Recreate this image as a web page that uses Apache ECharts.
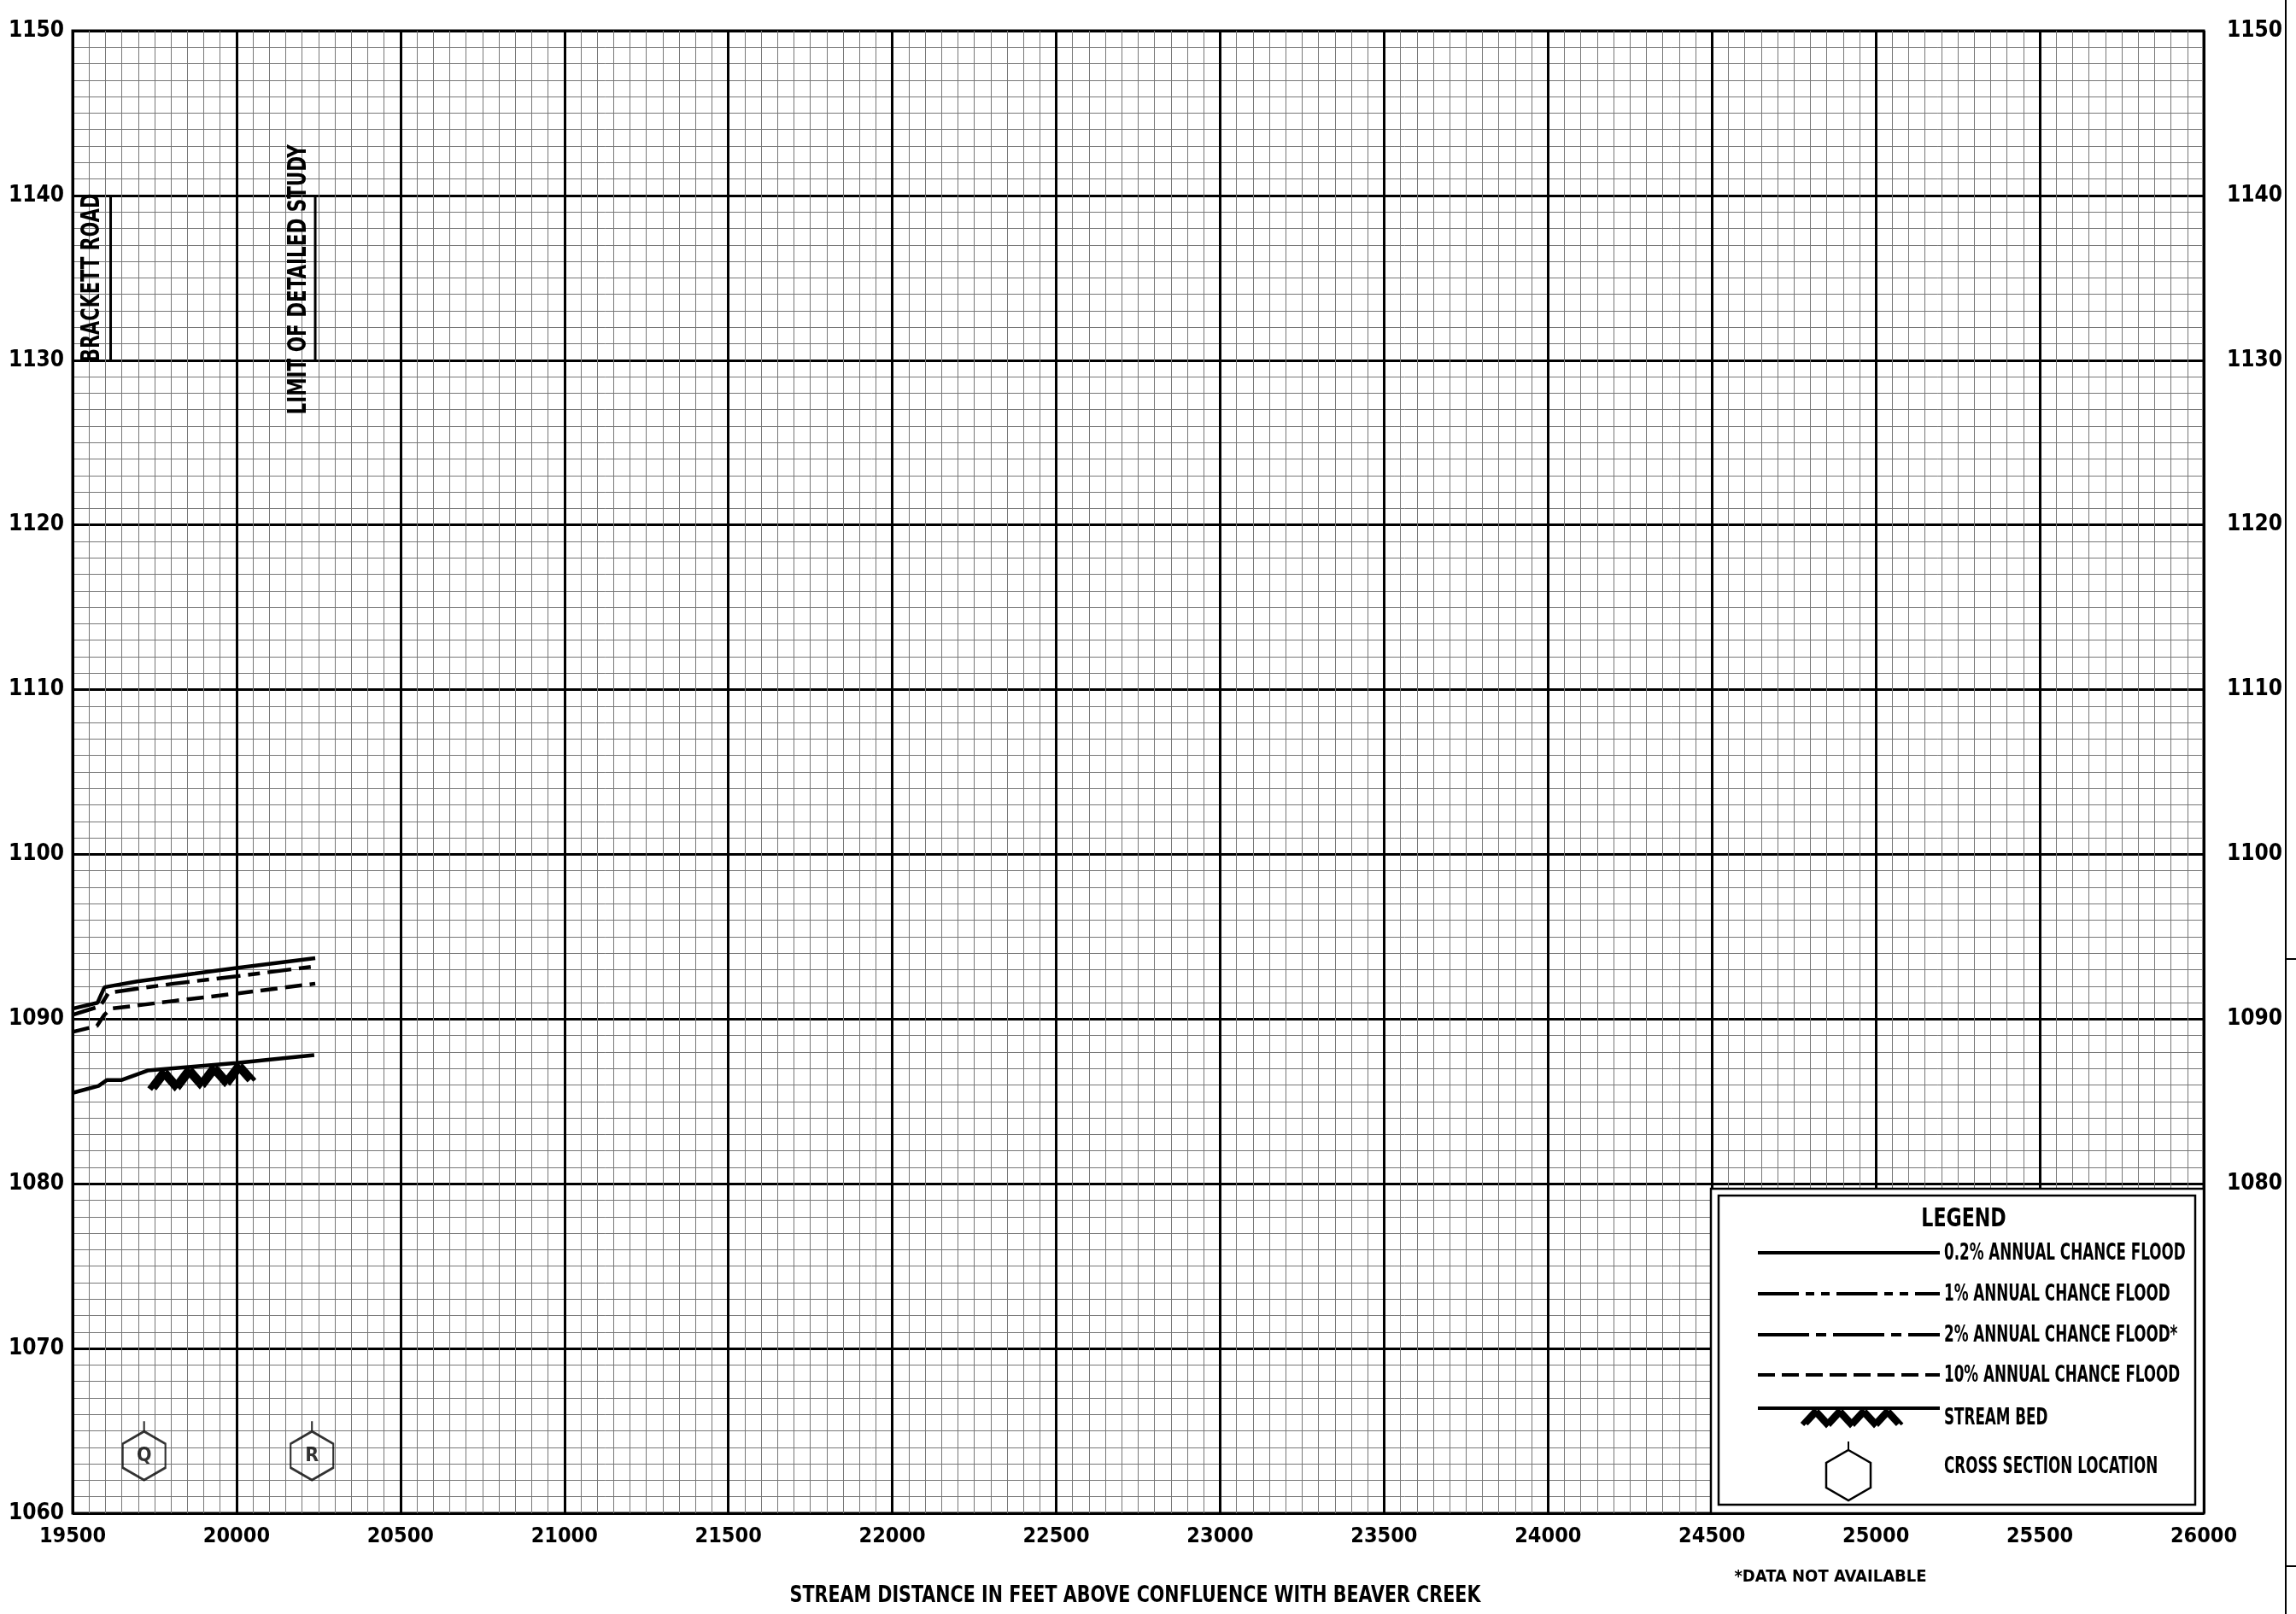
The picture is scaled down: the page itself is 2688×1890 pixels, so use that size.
<!DOCTYPE html>
<html>
<head>
<meta charset="utf-8">
<title>Flood profile</title>
<script src="https://cdn.jsdelivr.net/npm/echarts@6/dist/echarts.min.js"></script>
<style>
  html, body { margin: 0; padding: 0; background: #fff; }
  #chart { width: 2688px; height: 1890px; }
</style>
</head>
<body>
<div id="chart"></div>
<script>
// stream distance (ft) / elevation (ft)
const dist02 = [19500, 19576, 19597, 19610, 19697, 19873, 20000, 20240];
const elev02 = [1090.63, 1090.99, 1091.93, 1091.98, 1092.29, 1092.76, 1093.1, 1093.7];

const dist1 = [19500, 19584, 19610, 19808, 20000, 20240];
const elev1 = [1090.26, 1090.78, 1091.6, 1092.15, 1092.6, 1093.2];

const dist10 = [19500, 19574, 19597, 19616, 19808, 20000, 20240];
const elev10 = [1089.22, 1089.58, 1090.26, 1090.63, 1091.1, 1091.55, 1092.15];

const distBed = [19500, 19579, 19605, 19650, 19729, 20000, 20237];
const elevBed = [1085.52, 1085.94, 1086.3, 1086.3, 1086.88, 1087.34, 1087.81];
const bedHatch = [19735, 20040];

// cross sections
const xsLetters = ['Q', 'R'];
const xsDist = [19718, 20230];
const xsElev = [1063.8, 1063.8];

// vertical annotations (road / limit of study)
const roadDist = 19616;
const limitDist = 20240;
const annotBottom = 1130;
const annotTop = 1140;
const annotTexts = ['BRACKETT ROAD', 'LIMIT OF DETAILED STUDY'];
const annotDist = [19560, 20189];
const annotElev = [1135, 1134.9];
const annotScale = [0.75, 0.77];

const yRightLabels = [1080, 1090, 1100, 1110, 1120, 1130, 1140, 1150];

const FONT = "'DejaVu Sans Condensed', 'Liberation Sans Narrow', 'Noto Sans', sans-serif";

const zip = (xs, ys) => xs.map((x, i) => [x, ys[i]]);

const bedAt = (x) => {
  for (let i = 1; i < distBed.length; i++) {
    if (x <= distBed[i]) {
      const t = (x - distBed[i - 1]) / (distBed[i] - distBed[i - 1]);
      return elevBed[i - 1] + t * (elevBed[i] - elevBed[i - 1]);
    }
  }
  return elevBed[elevBed.length - 1];
};

const chart = echarts.init(document.getElementById('chart'), null, {renderer: 'canvas'});

const hexPath = 'path://M25,0 L25,12 L50,26.5 L50,54.5 L25,69 L0,54.5 L0,26.5 L25,12 Z';

const floodLine = (name, data, dash) => ({
  name: name,
  type: 'line',
  data: data,
  symbol: 'none',
  silent: true,
  z: 5,
  lineStyle: {color: '#000', width: 4.5, type: dash, cap: 'butt'}
});

const textStyle = {fontFamily: FONT, fontWeight: 'bold', fill: '#000'};

// legend box, drawn by hand (the symbols are not standard legend icons)
const LX = 2058, LX2 = 2271, TX = 2276;
const LEG_SCALE = 0.69;
const legendRows = [
  {y: 1467, text: '0.2% ANNUAL CHANCE FLOOD', dash: null},
  {y: 1515, text: '1% ANNUAL CHANCE FLOOD', dash: [48, 8, 10, 8, 10, 8]},
  {y: 1563, text: '2% ANNUAL CHANCE FLOOD*', dash: [60, 8, 12, 8]},
  {y: 1610, text: '10% ANNUAL CHANCE FLOOD', dash: [20, 8]}
];

const legendText = (x, y, text) => ({
  type: 'text', z: 52, x: x, y: y, scaleX: LEG_SCALE,
  style: Object.assign({text: text, fontSize: 27, verticalAlign: 'middle'}, textStyle)
});

const graphics = [
  {type: 'rect', z: 50, shape: {x: 2003, y: 1392, width: 577, height: 380},
    style: {fill: '#fff', stroke: '#000', lineWidth: 2.5}},
  {type: 'rect', z: 51, shape: {x: 2012, y: 1400, width: 558, height: 362},
    style: {fill: null, stroke: '#000', lineWidth: 2.5}},
  {type: 'text', z: 52, x: 2299, y: 1428, scaleX: 0.82,
    style: Object.assign({text: 'LEGEND', fontSize: 30, align: 'center', verticalAlign: 'middle'}, textStyle)}
];
legendRows.forEach(r => {
  graphics.push({type: 'line', z: 52, shape: {x1: LX, y1: r.y, x2: LX2, y2: r.y},
    style: {stroke: '#000', lineWidth: 4, lineDash: r.dash}});
  graphics.push(legendText(TX, r.y + 1, r.text));
});
// stream bed symbol
const zig = [];
for (let i = 0; i <= 8; i++) {
  zig.push([2110 + i * 14, i % 2 === 0 ? 1668 : 1653]);
}
graphics.push({type: 'line', z: 52, shape: {x1: LX, y1: 1649, x2: LX2, y2: 1649},
  style: {stroke: '#000', lineWidth: 4}});
graphics.push({type: 'polyline', z: 52, shape: {points: zig}, style: {stroke: '#000', lineWidth: 6, fill: null}});
graphics.push({type: 'polyline', z: 52, shape: {points: zig.map(p => [p[0] + 5, p[1]])},
  style: {stroke: '#000', lineWidth: 4, fill: null}});
graphics.push(legendText(TX, 1661, 'STREAM BED'));
// cross section symbol
graphics.push({type: 'polyline', z: 52, shape: {points: [[2164, 1688], [2164, 1698]]},
  style: {stroke: '#000', lineWidth: 2}});
graphics.push({type: 'polygon', z: 52,
  shape: {points: [[2164, 1698], [2190, 1713], [2190, 1742], [2164, 1757], [2138, 1742], [2138, 1713]]},
  style: {stroke: '#000', lineWidth: 2.5, fill: null}});
graphics.push(legendText(TX, 1718, 'CROSS SECTION LOCATION'));
graphics.push({type: 'text', z: 52, x: 2143, y: 1847,
  style: Object.assign({text: '*DATA NOT AVAILABLE', fontSize: 20, align: 'center', verticalAlign: 'middle'}, textStyle)});
// axis title
graphics.push({type: 'text', z: 52, x: 1329, y: 1869, scaleX: 0.85,
  style: Object.assign({text: 'STREAM DISTANCE IN FEET ABOVE CONFLUENCE WITH BEAVER CREEK', fontSize: 27,
    align: 'center', verticalAlign: 'middle'}, textStyle)});
// page edge seen on the scan
graphics.push({type: 'line', z: 52, shape: {x1: 2676, y1: 0, x2: 2676, y2: 1890}, style: {stroke: '#000', lineWidth: 2}});
graphics.push({type: 'line', z: 52, shape: {x1: 2676, y1: 1123, x2: 2688, y2: 1123}, style: {stroke: '#000', lineWidth: 2}});
graphics.push({type: 'line', z: 52, shape: {x1: 2676, y1: 1834, x2: 2688, y2: 1834}, style: {stroke: '#000', lineWidth: 2}});

const labelFont = {fontFamily: FONT, fontWeight: 'bold', color: '#000'};

const option = {
  animation: false,
  backgroundColor: '#fff',
  grid: {
    left: 85, right: 108, top: 36, bottom: 118,
    outerBoundsMode: 'none',
    containLabel: false,
    show: true, borderColor: '#000', borderWidth: 3, backgroundColor: '#fff'
  },
  xAxis: {
    type: 'value',
    min: 19500, max: 26000, interval: 500,
    axisLine: {show: false},
    axisTick: {show: false},
    axisLabel: Object.assign({fontSize: 25, margin: 15, formatter: v => String(v)}, labelFont),
    splitLine: {show: true, lineStyle: {color: '#000', width: 3}},
    minorTick: {show: false, splitNumber: 10},
    minorSplitLine: {show: true, lineStyle: {color: '#777', width: 1}}
  },
  yAxis: [{
    type: 'value',
    min: 1060, max: 1150, interval: 10,
    axisLine: {show: false},
    axisTick: {show: false},
    axisLabel: Object.assign({fontSize: 26, margin: 10, formatter: v => String(v)}, labelFont),
    splitLine: {show: true, lineStyle: {color: '#000', width: 3}},
    minorTick: {show: false, splitNumber: 10},
    minorSplitLine: {show: true, lineStyle: {color: '#777', width: 1}}
  }, {
    type: 'value',
    position: 'right',
    min: 1060, max: 1150, interval: 10,
    axisLine: {show: false},
    axisTick: {show: false},
    splitLine: {show: false},
    axisLabel: Object.assign({
      fontSize: 26, margin: 27,
      formatter: v => (yRightLabels.indexOf(v) >= 0 ? String(v) : '')
    }, labelFont)
  }],
  graphic: graphics,
  series: [
    floodLine('0.2% ANNUAL CHANCE FLOOD', zip(dist02, elev02), 'solid'),
    floodLine('1% ANNUAL CHANCE FLOOD', zip(dist1, elev1), [28, 9, 14, 9]),
    floodLine('10% ANNUAL CHANCE FLOOD', zip(dist10, elev10), [20, 9]),
    floodLine('STREAM BED', zip(distBed, elevBed), 'solid'),
    {
      // zigzag bed hatching under the profile
      type: 'custom',
      silent: true,
      clip: false,
      z: 5,
      data: [bedHatch],
      renderItem: (params, api) => {
        const x0 = api.value(0), x1 = api.value(1);
        const pts = [];
        for (let i = 0; i <= 8; i++) {
          const xv = x0 + (x1 - x0) * i / 8;
          const p = api.coord([xv, bedAt(xv)]);
          pts.push([p[0], p[1] + (i % 2 === 0 ? 22 : 4)]);
        }
        return {
          type: 'group',
          children: [
            {type: 'polyline', shape: {points: pts}, style: {stroke: '#000', lineWidth: 7, fill: null}},
            {type: 'polyline', shape: {points: pts.map(p => [p[0] + 6, p[1]])}, style: {stroke: '#000', lineWidth: 5, fill: null}}
          ]
        };
      }
    },
    {
      name: 'cross sections',
      type: 'scatter',
      silent: true,
      z: 6,
      symbol: hexPath,
      symbolSize: [50, 69],
      itemStyle: {color: 'rgba(0,0,0,0)', borderColor: '#000', borderWidth: 2.5},
      label: Object.assign({
        show: true, position: 'inside', offset: [0, 6],
        formatter: p => p.name, fontSize: 23
      }, labelFont),
      data: xsLetters.map((n, i) => ({name: n, value: [xsDist[i], xsElev[i]]}))
    },
    {
      type: 'line', symbol: 'none', silent: true, z: 5,
      lineStyle: {color: '#000', width: 3},
      data: [[roadDist, annotBottom], [roadDist, annotTop]]
    },
    {
      type: 'line', symbol: 'none', silent: true, z: 5,
      lineStyle: {color: '#000', width: 3},
      data: [[limitDist, annotBottom], [limitDist, annotTop]]
    },
    {
      // rotated annotation texts, placed on the axes
      type: 'custom',
      silent: true,
      clip: false,
      z: 6,
      data: zip(annotDist, annotElev),
      renderItem: (params, api) => {
        const p = api.coord([api.value(0), api.value(1)]);
        return {
          type: 'text',
          x: p[0], y: p[1],
          rotation: Math.PI / 2,
          scaleX: annotScale[params.dataIndex],
          style: {
            text: annotTexts[params.dataIndex],
            fontFamily: FONT, fontWeight: 'bold', fontSize: 31, fill: '#000',
            align: 'center', verticalAlign: 'middle'
          }
        };
      }
    }
  ]
};

chart.setOption(option);
</script>
</body>
</html>
